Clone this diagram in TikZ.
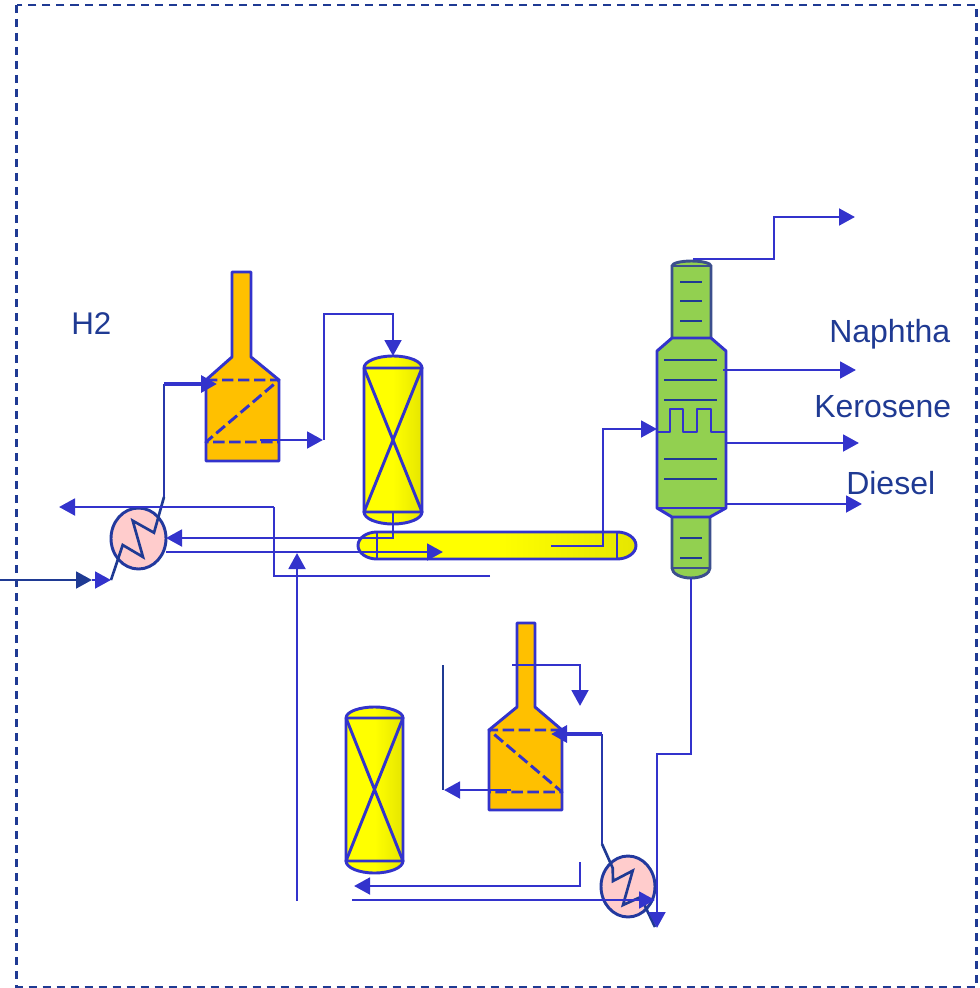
\documentclass[tikz,border=0pt]{standalone}
\usepackage{fontspec}
\setmainfont{Liberation Sans}
\usetikzlibrary{arrows.meta}
\definecolor{ln}{HTML}{3333CC}
\definecolor{dk}{HTML}{1F3A93}
\definecolor{orng}{HTML}{FFC000}
\definecolor{grn}{HTML}{92D050}
\definecolor{pnk}{HTML}{FFCCCC}
\definecolor{ylR}{HTML}{E6E600}
\tikzset{
 stream/.style={draw=ln,line width=2.2pt,line join=miter,-{Triangle[length=12pt,width=12.5pt]}},
 bare/.style={draw=ln,line width=2.2pt},
 thinpipe/.style={draw=dk!60!ln,line width=2.2pt},
 vessel/.style={draw=ln,line width=2.2pt,line join=round},
 dashline/.style={draw=ln,line width=2.2pt,line join=round,dash pattern=on 8.5pt off 3.5pt},
 tray/.style={draw=dk,line width=2.2pt},
 hx/.style={draw=dk!80!ln,line width=2.2pt,fill=pnk},
 coil/.style={draw=dk,line width=2pt,line join=miter},
 lab/.style={text=dk,font=\fontsize{24pt}{26pt}\selectfont,inner sep=0pt,anchor=base west},
 yl/.style={left color=yellow,right color=ylR,middle color=yellow},
}
\begin{document}
\begin{tikzpicture}[x=0.75pt,y=-0.75pt]
\useasboundingbox (0,0) rectangle (980,988);
% border
\draw[draw=dk,line width=2.2pt,dash pattern=on 6pt off 4.5pt] (16.5,5) rectangle (976.5,987);
% ports
\coordinate (f1in) at (217,384);
\coordinate (f1out) at (260,440);
\coordinate (r1top) at (393,356);
\coordinate (r1bot) at (393,512);
\coordinate (hx1L) at (111,580);
\coordinate (hx1T) at (164,497);
\coordinate (hx1R) at (166,538);
\coordinate (hx1S) at (166,552);
\coordinate (colfeed) at (657,429);
\coordinate (coltop) at (693,259);
\coordinate (colbot) at (691,578);
\coordinate (drain) at (657,928);
\coordinate (hx2T) at (602,844);
\coordinate (hx2B) at (655,927);
\coordinate (f2in) at (551,734);
% furnace 1
\draw[vessel,fill=orng] (232,272)--(251,272)--(251,357)--(279,380)--(279,461)--(206,461)--(206,380)--(232,357)--cycle;
\draw[dashline] (206,380)--(279,380)--(206,442)--(279,442);
% furnace 2
\draw[vessel,fill=orng] (517,623)--(535,623)--(535,707)--(562,730)--(562,810)--(489,810)--(489,730)--(517,707)--cycle;
\draw[dashline] (562,730)--(489,730)--(562,792)--(489,792);
% reactor 1
\draw[vessel,yl] (364,368) arc[start angle=180,end angle=360,x radius=29,y radius=12] -- (422,512) arc[start angle=0,end angle=180,x radius=29,y radius=12] -- cycle;
\draw[vessel] (364,368)--(422,368)--(364,512)--(422,512)--(364,368);
% reactor 2
\draw[vessel,yl] (346,718) arc[start angle=180,end angle=360,x radius=28.5,y radius=11] -- (403,861) arc[start angle=0,end angle=180,x radius=28.5,y radius=12] -- cycle;
\draw[vessel] (346,718)--(403,718)--(346,861)--(403,861)--(346,718);
% separator
\draw[vessel,yl] (377,532)--(617,532) arc[start angle=270,end angle=450,x radius=19,y radius=13.5] -- (377,559) arc[start angle=90,end angle=270,x radius=19,y radius=13.5] -- cycle;
\draw[vessel] (377,532)--(377,559) (617,532)--(617,559);
% column
\draw[draw=dk!70!gray,line width=2.2pt,fill=grn] (672,266) arc[start angle=180,end angle=360,x radius=19.5,y radius=5] -- (711,340) -- (672,340) -- cycle;
\draw[draw=dk!70!gray,line width=2.2pt,fill=grn] (672,516)--(710,516)--(710,568) arc[start angle=0,end angle=180,x radius=19,y radius=10] -- cycle;
\draw[draw=dk!70!gray,line width=1.2pt] (672,266)--(711,266) (672,568)--(710,568);
\draw[vessel,fill=grn] (672,338)--(711,338)--(726,351)--(726,508)--(710,517)--(672,517)--(657,508)--(657,351)--cycle;
\draw[draw=ln,line width=2.2pt] (657,508)--(726,508);
\foreach \y in {282,301,321,538,558} \draw[tray] (680,\y)--(702,\y);
\foreach \y in {360,380,400,459,479} \draw[tray] (664,\y)--(717,\y);
\draw[vessel] (657,432)--(670,432)--(670,409)--(683,409)--(683,432)--(697,432)--(697,409)--(711,409)--(711,432)--(726,432);
% exchangers
\draw[hx] (138.5,538.5) ellipse [x radius=27.5,y radius=30.5];
\draw[hx] (628,886.5) ellipse [x radius=27,y radius=30.5];
\draw[coil] (hx1L)--(122.7,545)--(143,557)--(132.7,520.7)--(154,532.7)--(hx1T);
\draw[coil] (hx2T)--(612.7,868)--(613,881)--(632.7,870.7)--(623,905)--(640.7,897)--(hx2B);
% hx1 hot path up
\draw[thinpipe] (hx1T)--(164,384);
\draw[stream,line width=3pt] (164,384)--(f1in);
\draw[stream] (f1out)--(323,440);
\draw[stream] (324,440)|-(393,314)--(r1top);
\draw[stream] (r1bot)|-(hx1R);
\draw[stream] (hx1S)--(443,552);
\draw[stream] (551,546)-|(603,429)--(colfeed);
\draw[bare] (490,576)-|(274,507);
\draw[stream] (274,507)--(59,507);
\draw[stream] (297,901)--(297,553);
\draw[stream,draw=dk,-{Triangle[length=12pt,width=12.5pt,fill=dk]}] (0,580)--(92,580);
\draw[stream] (92,580)--(hx1L);
% column products
\draw[stream] (coltop)--(774,259)--(774,217)--(855,217);
\draw[stream] (723,370)--(856,370);
\draw[stream] (726,443)--(859,443);
\draw[stream] (726,504)--(862,504);
\draw[stream] (colbot)--(691,754)--(657,754)--(drain);
% lower
\draw[stream] (512,665)--(580,665)--(580,706);
\draw[stream] (511,790)--(444,790);
\draw[draw=dk,line width=2.2pt] (443,665)--(443,790);
\draw[thinpipe] (hx2T)--(602,734);
\draw[stream,line width=3pt] (602,734)--(f2in);
\draw[stream] (580,862)--(580,886)--(354,886);
\draw[stream] (352,900)--(655,900);
% labels
\node[lab,font=\fontsize{23.5pt}{26pt}\selectfont] (h2) at (71,334) {H2};
\node[lab] (naph) at (829,342) {Naphtha};
\node[lab] (kero) at (814,417) {Kerosene};
\node[lab] (dies) at (846,494) {Diesel};
\end{tikzpicture}
\end{document}
